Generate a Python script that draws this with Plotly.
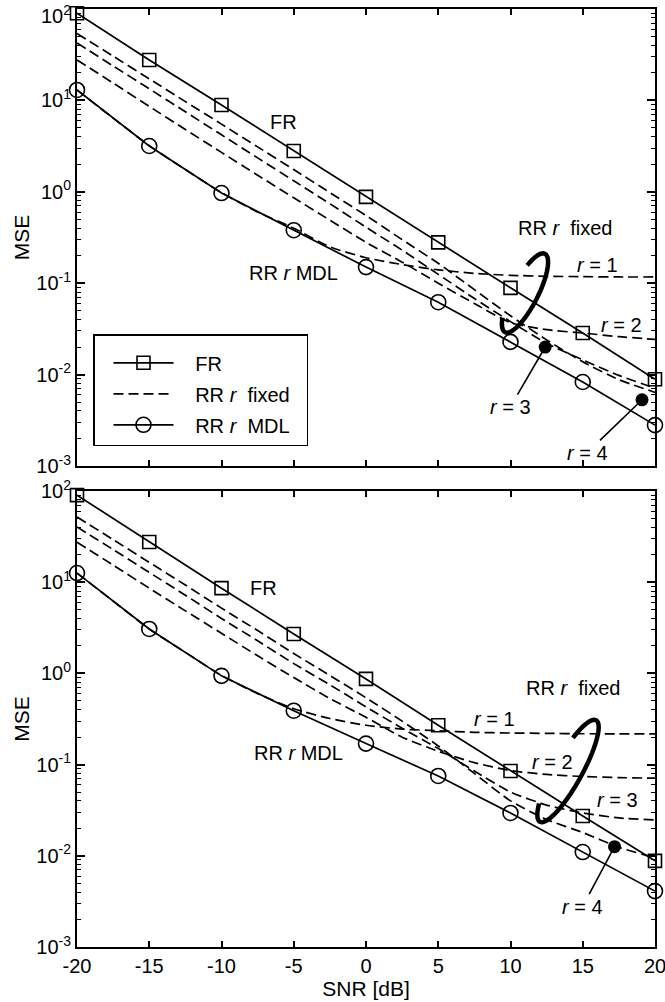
import numpy as np
import plotly.graph_objects as go

# ---------------- data ----------------
SNR = [-20, -15, -10, -5, 0, 5, 10, 15, 20]
SNR_FINE = [-20, -17.5, -15, -12.5, -10, -7.5, -5, -2.5, 0, 2.5, 5, 7.5, 10, 12.5, 15, 17.5, 20]

# upper panel
FR_TOP = [90, 27.7, 8.9, 2.8, 0.88, 0.28, 0.089, 0.0285, 0.0089]
MDL_TOP = [13, 3.17, 0.97, 0.38, 0.15, 0.062, 0.0228, 0.0083, 0.0028]
R1_TOP = [13, 6.4, 3.2, 1.75, 0.98, 0.6, 0.40, 0.25, 0.19, 0.16, 0.14, 0.128, 0.122, 0.119, 0.118, 0.117, 0.117]
R2_TOP = [27.7, 15.5, 8.6, 4.8, 2.7, 1.52, 0.86, 0.49, 0.28, 0.17, 0.10, 0.06, 0.037, 0.031, 0.0285, 0.026, 0.0243]
R3_TOP = [42.5, 23.8, 13.4, 7.5, 4.2, 2.35, 1.32, 0.74, 0.41, 0.23, 0.125, 0.068, 0.038, 0.022, 0.0145, 0.0098, 0.0071]
R4_TOP = [54, 30.5, 17.2, 9.7, 5.5, 3.1, 1.75, 0.98, 0.55, 0.30, 0.165, 0.085, 0.044, 0.024, 0.0138, 0.0088, 0.0064]
DOT_TOP_X = [12.4, 19.1]
DOT_TOP_Y = [0.020, 0.0053]

# lower panel
FR_BOT = [90, 27.6, 8.6, 2.7, 0.87, 0.27, 0.085, 0.0273, 0.0088]
MDL_BOT = [12.6, 3.07, 0.94, 0.39, 0.17, 0.075, 0.0295, 0.011, 0.0041]
R1_BOT = [12.6, 6.2, 3.07, 1.7, 0.95, 0.6, 0.41, 0.32, 0.27, 0.245, 0.235, 0.226, 0.222, 0.22, 0.218, 0.217, 0.217]
R2_BOT = [27.5, 15.4, 8.6, 4.85, 2.75, 1.56, 0.9, 0.53, 0.33, 0.2, 0.14, 0.105, 0.086, 0.078, 0.074, 0.072, 0.071]
R3_BOT = [40.3, 22.8, 12.8, 7.2, 4.0, 2.28, 1.28, 0.75, 0.43, 0.25, 0.15, 0.085, 0.05, 0.036, 0.0295, 0.026, 0.0247]
R4_BOT = [51.9, 29.3, 16.5, 9.3, 5.2, 2.95, 1.65, 0.95, 0.54, 0.3, 0.16, 0.08, 0.04, 0.025, 0.018, 0.0124, 0.0095]
DOT_BOT_X = [17.2]
DOT_BOT_Y = [0.0126]

X_TICKVALS = [-20, -15, -10, -5, 0, 5, 10, 15, 20]
X_TICKTEXT = ["-20", "-15", "-10", "-5", "0", "5", "10", "15", "20"]
Y_TICKVALS = [1e-3, 1e-2, 1e-1, 1, 10, 100]
Y_TICKTEXT = ["10<sup>-3</sup>", "10<sup>-2</sup>", "10<sup>-1</sup>",
              "10<sup>0</sup>", "10<sup>1</sup>", "10<sup>2</sup>"]
Y_MINOR = [m * 10.0 ** e for e in range(-3, 2) for m in range(2, 10)]

# ---------------- styling / layout constants ----------------
W, H = 665, 1002
ML, MR, MT, MB = 77, 10, 9, 55
PW, PH = W - ML - MR, H - MT - MB
FONT = "Liberation Sans, Arial, Helvetica, sans-serif"
FS = 20
LW = 1.7
DASH = "10px,5px"
PAD = "\u00a0\u00a0\u00a0"   # legend text padding

fig = go.Figure()


def add_panel(xa, ya, fr, mdl, rs, dx, dy, legend):
    fig.add_trace(go.Scatter(
        x=SNR, y=fr, mode="lines+markers", name=PAD + "FR", showlegend=legend, legendgroup="fr",
        line=dict(color="black", width=LW),
        marker=dict(symbol="square-open", size=13, color="black", line=dict(width=1.6)),
        xaxis=xa, yaxis=ya, cliponaxis=False))
    for i, r in enumerate(rs):
        fig.add_trace(go.Scatter(
            x=SNR_FINE, y=r, mode="lines", name=PAD + "RR <i>r</i>\u00a0 fixed",
            showlegend=legend and i == 0, legendgroup="fixed",
            line=dict(color="black", width=LW, dash=DASH, shape="spline", smoothing=0.6),
            xaxis=xa, yaxis=ya))
    fig.add_trace(go.Scatter(
        x=SNR, y=mdl, mode="lines+markers", name=PAD + "RR <i>r</i>\u00a0 MDL\u00a0\u00a0",
        showlegend=legend, legendgroup="mdl",
        line=dict(color="black", width=LW),
        marker=dict(symbol="circle-open", size=15, color="black", line=dict(width=1.6)),
        xaxis=xa, yaxis=ya, cliponaxis=False))
    fig.add_trace(go.Scatter(
        x=dx, y=dy, mode="markers", showlegend=False,
        marker=dict(symbol="circle", size=13, color="black"),
        xaxis=xa, yaxis=ya, cliponaxis=False))


add_panel("x", "y", FR_TOP, MDL_TOP, [R1_TOP, R2_TOP, R3_TOP, R4_TOP], DOT_TOP_X, DOT_TOP_Y, True)
add_panel("x2", "y2", FR_BOT, MDL_BOT, [R1_BOT, R2_BOT, R3_BOT, R4_BOT], DOT_BOT_X, DOT_BOT_Y, False)

top_bottom_px = 466
bot_top_px = 491
dom_top = [(H - MB - top_bottom_px) / PH, 1.0]
dom_bot = [0.0, (H - MB - bot_top_px) / PH]

xcommon = dict(range=[-20, 20], tickvals=X_TICKVALS, ticktext=X_TICKTEXT, ticks="inside",
               ticklen=6, tickwidth=1.5, automargin=False, ticklabeloverflow="allow",
               tickcolor="black", showline=True, linewidth=2, linecolor="black", mirror="ticks",
               showgrid=False, zeroline=False, tickfont=dict(size=FS, color="black", family=FONT))
ycommon = dict(type="log", range=[-3, 2], tickvals=Y_TICKVALS,
               ticks="inside", ticklen=8, tickwidth=1.5, tickcolor="black", automargin=False,
               ticklabeloverflow="allow",
               minor=dict(tickvals=Y_MINOR, ticks="inside", ticklen=4, tickwidth=1, tickcolor="black"),
               showline=True, linewidth=2, linecolor="black", mirror="ticks", showgrid=False,
               zeroline=False, tickfont=dict(size=FS, color="black", family=FONT),
               title=dict(text="MSE", font=dict(size=FS + 1, color="black", family=FONT), standoff=1))

# the top-most tick label of the upper panel is written as an annotation so it stays inside the page
top_ticktext = Y_TICKTEXT[:-1] + [""]

fig.update_layout(
    template="none",
    width=W, height=H, margin=dict(l=ML, r=MR, t=MT, b=MB, autoexpand=False),
    paper_bgcolor="white", plot_bgcolor="white",
    font=dict(family=FONT, size=FS, color="black"),
    xaxis=dict(**xcommon, anchor="y", showticklabels=False),
    yaxis=dict(**ycommon, ticktext=top_ticktext, domain=dom_top, anchor="x"),
    xaxis2=dict(**xcommon, anchor="y2", showticklabels=True,
                title=dict(text="SNR [dB]", font=dict(size=FS + 1, color="black", family=FONT), standoff=4)),
    yaxis2=dict(**ycommon, ticktext=Y_TICKTEXT, domain=dom_bot, anchor="x2"),
    legend=dict(x=(93 - ML) / PW, y=(H - MB - 334) / PH, xanchor="left", yanchor="top",
                bordercolor="black", borderwidth=1.5, bgcolor="white",
                font=dict(size=FS, family=FONT, color="black"), itemwidth=60, indentation=14,
                traceorder="grouped", tracegroupgap=2,
                title=dict(text=" ", font=dict(size=6))),
    showlegend=True,
)

fig.add_annotation(xref="paper", yref="paper", x=0, y=1, xanchor="right", yanchor="top",
                   xshift=-4, yshift=MT, text=Y_TICKTEXT[-1], showarrow=False,
                   font=dict(size=FS, family=FONT, color="black"))


def txt(xref, yref, x, y, text, **kw):
    fig.add_annotation(xref=xref, yref=yref, x=x, y=np.log10(y), text=text, showarrow=False,
                       font=dict(size=FS, family=FONT, color="black"), **kw)


def ptr(xref, yref, x, y, text, ax, ay):
    fig.add_annotation(xref=xref, yref=yref, x=x, y=np.log10(y), text=text, showarrow=True,
                       arrowhead=0, arrowwidth=1.6, arrowcolor="black", ax=ax, ay=ay, standoff=6,
                       font=dict(size=FS, family=FONT, color="black"))


# upper panel labels
txt("x", "y", -5.7, 5.8, "FR")
txt("x", "y", -5.0, 0.13, "RR <i>r</i> MDL")
txt("x", "y", 13.8, 0.40, "RR <i>r</i>\u00a0 fixed")
txt("x", "y", 16.0, 0.158, "<i>r</i> = 1")
txt("x", "y", 17.7, 0.035, "<i>r</i> = 2")
ptr("x", "y", DOT_TOP_X[0], DOT_TOP_Y[0], "<i>r</i> = 3", -35, 60)
ptr("x", "y", DOT_TOP_X[1], DOT_TOP_Y[1], "<i>r</i> = 4", -55, 53)

# lower panel labels
txt("x2", "y2", -7.1, 8.6, "FR")
txt("x2", "y2", -4.7, 0.134, "RR <i>r</i> MDL")
txt("x2", "y2", 14.3, 0.69, "RR <i>r</i>\u00a0 fixed")
txt("x2", "y2", 8.9, 0.32, "<i>r</i> = 1")
txt("x2", "y2", 12.9, 0.107, "<i>r</i> = 2")
txt("x2", "y2", 17.4, 0.041, "<i>r</i> = 3")
ptr("x2", "y2", DOT_BOT_X[0], DOT_BOT_Y[0], "<i>r</i> = 4", -32, 60)


# thick open loops ("RR r fixed" bracket), drawn in paper coordinates
def loop_path(cx, cy, a, b, ang_deg, t0, t1, n=60):
    th = np.deg2rad(ang_deg)
    u = np.array([np.cos(th), -np.sin(th)])
    v = np.array([np.sin(th), np.cos(th)])
    pts = []
    for t in np.linspace(t0, t1, n):
        p = np.array([cx, cy]) + a * np.cos(t) * u + b * np.sin(t) * v
        pts.append(((p[0] - ML) / PW, (H - MB - p[1]) / PH))
    return "M " + " L ".join(f"{px:.5f},{py:.5f}" for px, py in pts)


fig.add_shape(type="path", xref="paper", yref="paper",
              path=loop_path(525, 293, 44, 13, 63, -0.95, np.pi + 0.75),
              line=dict(color="black", width=4.5))
fig.add_shape(type="path", xref="paper", yref="paper",
              path=loop_path(568, 771, 58, 14, 61, -1.0, np.pi + 0.75),
              line=dict(color="black", width=4.5))

fig.write_html("out.html")
